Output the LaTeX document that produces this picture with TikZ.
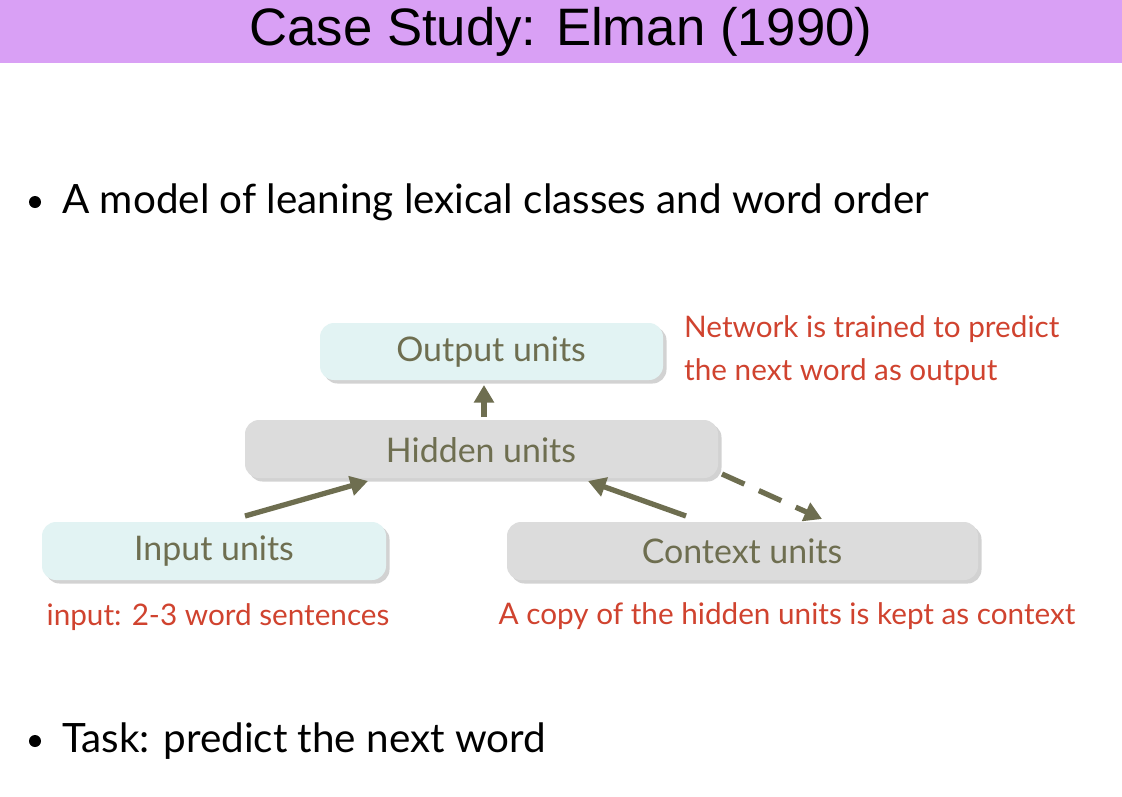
\documentclass[tikz,border=0pt]{standalone}
\usepackage{fontspec}
\setmainfont{Lato}
\newfontfamily\titlefont{Liberation Sans}
\usetikzlibrary{shadows,arrows.meta}
\definecolor{ttl}{HTML}{D9A0F5}
\definecolor{cy}{HTML}{E2F3F3}
\definecolor{gr}{HTML}{DCDCDC}
\definecolor{ol}{HTML}{6E6E50}
\definecolor{rd}{HTML}{D0432F}
\tikzset{x=0.02cm,y=-0.02cm,
 box/.style={rounded corners=8pt,drop shadow={shadow xshift=2pt,shadow yshift=-2pt,opacity=0.35}},
 lbl/.style={text=ol,font=\fontsize{19.3}{22}\selectfont},
 arr/.style={draw=ol,line width=3pt,-{Triangle[length=10pt,width=11pt]}},
 red/.style={text=rd,font=\fontsize{16.9}{20}\selectfont},
 bul/.style={font=\fontsize{23}{28}\selectfont,anchor=west}}
\begin{document}
\begin{tikzpicture}
\useasboundingbox (0,0) rectangle (1122,796);
\fill[white] (0,0) rectangle (1122,796);
\fill[ttl] (0,0) rectangle (1122,63);
\node[font=\titlefont\fontsize{30}{34}\selectfont] (title) at (561,32) {Case Study: Elman (1990)};
\fill (35,202) circle (6);
\node[bul] (b1) at (56,202) {A model of leaning lexical classes and word order};
\fill (35,741) circle (6);
\node[bul] (b2) at (56,741) {Task: predict the next word};
\path[box,fill=cy] (320,323) rectangle (663,380);
\node[lbl] (out) at (491,352) {Output units};
\path[box,fill=gr] (245,420) rectangle (718,478);
\node[lbl] (hid) at (481,450) {Hidden units};
\path[box,fill=cy] (42,522) rectangle (386,580);
\node[lbl] (inp) at (214,551) {Input units};
\path[box,fill=gr] (507,522) rectangle (978,580);
\node[lbl] (ctx) at (742,551) {Context units};
\coordinate (a1s) at (484,417); \coordinate (a1e) at (484,385);
\coordinate (a2s) at (245,516); \coordinate (a2e) at (368,481);
\coordinate (a3s) at (686,516); \coordinate (a3e) at (588,481);
\coordinate (a4s) at (722,474); \coordinate (a4e) at (822,519);
\draw[arr] (a1s) -- (a1e);
\draw[arr] (a2s) -- (a2e);
\draw[arr] (a3s) -- (a3e);
\draw[arr,dash pattern=on 14pt off 9pt] (a4s) -- (a4e);
\node[red,anchor=west] (n1) at (678,329) {Network is trained to predict};
\node[red,anchor=west] (n2) at (678,372) {the next word as output};
\node[red] (n3) at (218,617) {input: 2-3 word sentences};
\node[red] (n4) at (787,616) {A copy of the hidden units is kept as context};
\end{tikzpicture}
\end{document}
